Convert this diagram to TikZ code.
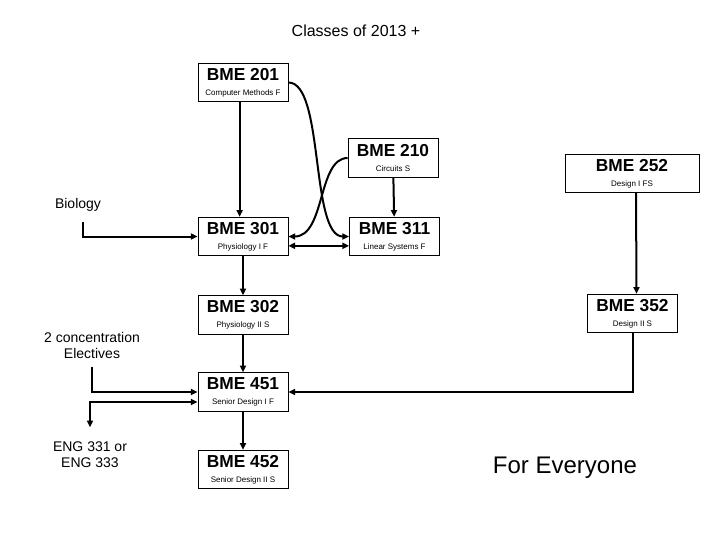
\documentclass[tikz,border=0pt]{standalone}
\usepackage{fontspec}
\setmainfont{Liberation Sans}
\usetikzlibrary{arrows.meta}
\newcommand{\course}[2]{{\bfseries #1}\\{\fontsize{6}{7}\selectfont #2}}
\begin{document}
\begin{tikzpicture}[x=0.75pt,y=-0.75pt,
  box/.style={draw,line width=0.6pt,minimum width=67.5pt,minimum height=29pt,
    align=center,inner sep=1pt,font=\fontsize{13}{11.5}\selectfont},
  link/.style={line width=1.5pt,-{Triangle[length=5pt,width=4.5pt]}},
  twoway/.style={line width=1.5pt,{Triangle[length=5pt,width=4.5pt]}-{Triangle[length=5pt,width=4.5pt]}},
  lbl/.style={align=center,font=\fontsize{10.5}{12}\selectfont}]
\useasboundingbox (0,0) rectangle (720,540);
\node (title) at (356,31) {\fontsize{12}{14}\selectfont Classes of 2013 +};
\node[box] (b201) at (243,82.5) {\course{BME 201}{Computer Methods F}};
\node[box] (b210) at (393,158) {\course{BME 210}{Circuits S}};
\node[box,minimum width=100.5pt] (b252) at (632,173.5) {\course{BME 252}{Design I FS}};
\node[box] (b301) at (243,236.5) {\course{BME 301}{Physiology I F}};
\node[box] (b311) at (394.5,236.5) {\course{BME 311}{Linear Systems F}};
\node[box] (b302) at (243,315) {\course{BME 302}{Physiology II S}};
\node[box] (b352) at (632.5,313.5) {\course{BME 352}{Design II S}};
\node[box] (b451) at (243,392) {\course{BME 451}{Senior Design I F}};
\node[box] (b452) at (243,469.5) {\course{BME 452}{Senior Design II S}};
\node[lbl] (bio) at (78,205) {Biology};
\node[lbl] (elec) at (92,345) {2 concentration\\Electives};
\node[lbl] (eng) at (90,455) {ENG 331 or\\ENG 333};
\node (all) at (565,468) {\fontsize{18}{20}\selectfont For Everyone};
% straight links
\draw[link] ([xshift=-2.5pt]b201.south) -- ([xshift=-2.5pt]b301.north);
\draw[link] (b210) -- (b311);
\draw[link] ([xshift=3pt]b252.south) -- ([xshift=3pt]b352.north);
\draw[link] (b301) -- (b302);
\draw[link] (b302) -- (b451);
\draw[link] (b451) -- (b452);
\draw[link] (b352) |- (b451);
\draw[twoway] ([yshift=-7pt]b301.east) -- ([yshift=-7pt]b311.west);
% crossing curves
\draw[link] (b201.east) .. controls +(36,0) and +(-39,0) .. (b311.west);
\draw[link] (b210.west) .. controls +(-30,0) and +(37,0) .. (b301.east);
% side inputs
\draw[link] ([xshift=3.75pt,yshift=-4pt]bio.south) |- (b301.west);
\draw[link] ([yshift=-3pt]elec.south) |- (b451.west);
\draw[twoway] ([yshift=7.5pt]eng.north) |- ([yshift=-7.5pt]b451.west);
\end{tikzpicture}
\end{document}
